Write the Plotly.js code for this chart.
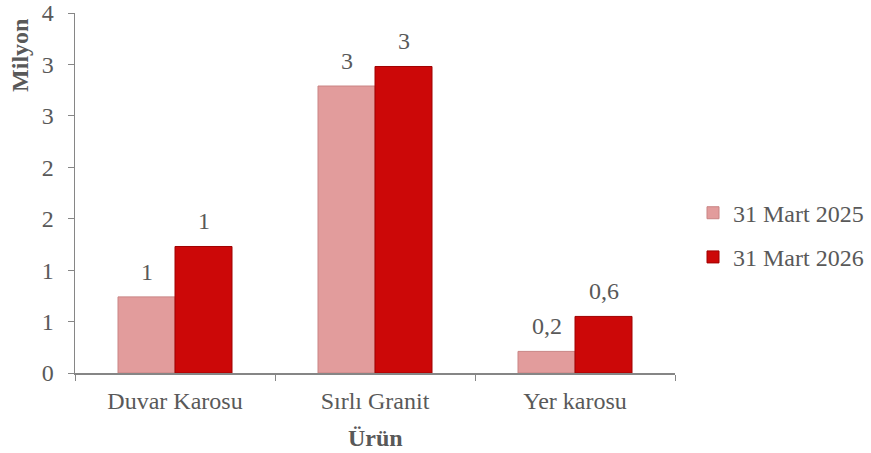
<!DOCTYPE html>
<html>
<head>
<meta charset="utf-8">
<script src="https://cdn.plot.ly/plotly-3.0.1.min.js"></script>
<style>html,body{margin:0;padding:0;background:#fff;}#chart{width:871px;height:453px;}</style>
</head>
<body>
<div id="chart"></div>
<script>
const categories = ["Duvar Karosu", "Sırlı Granit", "Yer karosu"];
const seriesNames = ["31 Mart 2025", "31 Mart 2026"];
const values2025 = [0.74, 2.79, 0.21];
const values2026 = [1.23, 2.98, 0.55];
const labels2025 = ["1", "3", "0,2"];
const labels2026 = ["1", "3", "0,6"];
const yTickVals = [0, 0.5, 1, 1.5, 2, 2.5, 3, 3.5];
const yTickText = ["0", "1", "1", "2", "2", "3", "3", "4"];

const FAM = "Liberation Serif, Times New Roman, serif";
const font = {family: FAM, size: 24, color: "#595959"};

const traces = [
  {type: "bar", name: seriesNames[0], x: categories, y: values2025, legendgroup: "a",
   marker: {color: "#E29C9C", line: {color: "#C98484", width: 1}}},
  {type: "bar", name: seriesNames[1], x: categories, y: values2026, legendgroup: "b",
   marker: {color: "#CC0808", line: {color: "#A00000", width: 1}}}
];

const annotations = [];
categories.forEach((c, i) => {
  annotations.push({x: c, y: values2025[i], xref: "x", yref: "y", text: labels2025[i],
    showarrow: false, xshift: -28.5, yshift: 25, yanchor: "middle", font: font});
  annotations.push({x: c, y: values2026[i], xref: "x", yref: "y", text: labels2026[i],
    showarrow: false, xshift: 28.5, yshift: 25, yanchor: "middle", font: font});
});
annotations.push({text: "<b>Milyon</b>", xref: "paper", yref: "paper", x: -0.092, y: 0.883,
  xanchor: "center", yanchor: "middle",
  textangle: -90, showarrow: false, font: {family: FAM, size: 24, color: "#595959"}});
annotations.push({text: "<b>Ürün</b>", xref: "paper", yref: "paper", x: 0.5, y: -0.18,
  xanchor: "center", yanchor: "middle", showarrow: false, font: {family: FAM, size: 24, color: "#595959"}});

const layout = {
  width: 871, height: 453,
  margin: {l: 75, r: 196, t: 13, b: 80, autoexpand: false},
  paper_bgcolor: "#fff", plot_bgcolor: "#fff",
  font: font,
  barmode: "group", bargap: 0.43, bargroupgap: 0,
  xaxis: {showgrid: false, showline: true, linecolor: "#868686", linewidth: 1.5,
          ticks: "outside", tickson: "boundaries", ticklen: 6, tickcolor: "#868686",
          tickfont: font, zeroline: false, fixedrange: true, ticklabelstandoff: 6},
  yaxis: {range: [0, 3.5], showgrid: false, showline: true, linecolor: "#868686", linewidth: 1.5,
          ticks: "outside", ticklen: 6, tickcolor: "#868686", tickvals: yTickVals, ticktext: yTickText,
          tickfont: font, zeroline: false, fixedrange: true, ticklabelstandoff: 9},
  showlegend: true,
  legend: {x: 1.03, y: 0.383, xanchor: "left", yanchor: "middle", font: font,
           tracegroupgap: 10, bgcolor: "rgba(0,0,0,0)", itemwidth: 30},
  annotations: annotations
};

Plotly.newPlot("chart", traces, layout, {displayModeBar: false, staticPlot: true});
</script>
</body>
</html>
